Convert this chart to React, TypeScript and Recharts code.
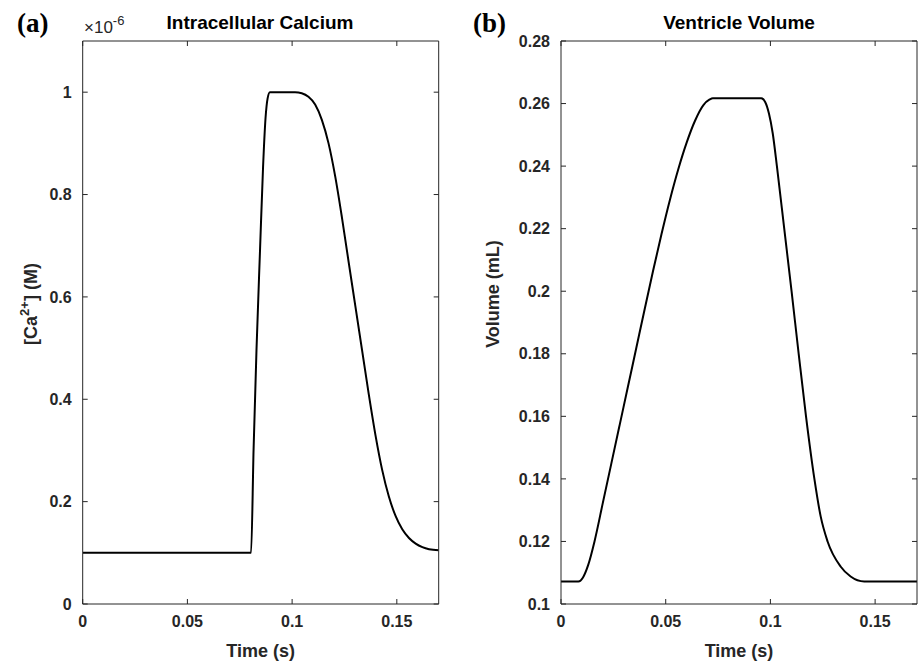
import React from 'react';
import { LineChart, Line, XAxis, YAxis } from 'recharts';

// ---- data ----
// Panel (a): intracellular calcium, values in units of 1e-6 M
const caTime = [
  0, 0.0804, 0.0816, 0.083, 0.0847, 0.0861, 0.0873, 0.0883, 0.0894, 0.1014,
  0.1046, 0.1078, 0.111, 0.1142, 0.1174, 0.1206, 0.1238, 0.127, 0.1302, 0.1334,
  0.1366, 0.1398, 0.143, 0.1462, 0.1494, 0.1526, 0.1558, 0.159, 0.1622, 0.1654, 0.17,
];
const caValue = [
  0.1, 0.1, 0.302, 0.498, 0.694, 0.851, 0.949, 0.988, 1.0, 1.0,
  0.998, 0.991, 0.976, 0.946, 0.9, 0.835, 0.755, 0.668, 0.582, 0.496,
  0.41, 0.33, 0.262, 0.21, 0.172, 0.146, 0.129, 0.118, 0.111, 0.107, 0.105,
];

// Panel (b): ventricle volume (mL)
const volTime = [
  0, 0.0083, 0.0105, 0.013, 0.016, 0.02, 0.024, 0.028, 0.032, 0.036,
  0.04, 0.044, 0.048, 0.052, 0.056, 0.06, 0.064, 0.068, 0.071, 0.0725,
  0.0956, 0.0975, 0.0993, 0.1011, 0.1031, 0.1066, 0.1101, 0.1135, 0.117, 0.121,
  0.124, 0.1273, 0.1335, 0.1383, 0.1448, 0.17,
];
const volValue = [
  0.1072, 0.1072, 0.1085, 0.1125, 0.12, 0.1324, 0.1448, 0.1572, 0.1696, 0.182,
  0.1944, 0.2066, 0.2183, 0.2292, 0.239, 0.2475, 0.2545, 0.2595, 0.2613, 0.2617,
  0.2617, 0.2605, 0.2568, 0.2505, 0.24, 0.22, 0.2, 0.18, 0.16, 0.14,
  0.128, 0.12, 0.112, 0.1088, 0.1072, 0.1072,
];

const timeTicks = [0, 0.05, 0.1, 0.15];
const timeDomain: [number, number] = [0, 0.17];
const caTicks = [0, 0.2, 0.4, 0.6, 0.8, 1];
const caDomain: [number, number] = [0, 1.1];
const volTicks = [0.1, 0.12, 0.14, 0.16, 0.18, 0.2, 0.22, 0.24, 0.26, 0.28];
const volDomain: [number, number] = [0.1, 0.28];

const caData = caTime.map((t, i) => ({ t, v: caValue[i] }));
const volData = volTime.map((t, i) => ({ t, v: volValue[i] }));

// ---- styles ----
const FONT = '"Liberation Sans", Arial, Helvetica, sans-serif';
const SERIF = '"Liberation Serif", "Times New Roman", serif';
const AX = '#262626';
const tickStyle = { fill: AX, fontSize: 16, fontWeight: 'bold' as const, fontFamily: FONT };
const blank = () => '';

type PanelProps = {
  data: { t: number; v: number }[];
  yDomain: [number, number];
  yTicks: number[];
  width: number;
  marginLeft: number;
  marginRight: number;
};

function Panel({ data, yDomain, yTicks, width, marginLeft, marginRight }: PanelProps) {
  return (
    <LineChart
      width={width}
      height={663}
      data={data}
      margin={{ top: 40, right: marginRight, bottom: 19, left: marginLeft }}
    >
      <XAxis
        xAxisId="b"
        dataKey="t"
        type="number"
        domain={timeDomain}
        allowDataOverflow
        ticks={timeTicks}
        interval={0}
        orientation="bottom"
        height={40}
        tickSize={-5}
        tickMargin={17}
        tick={tickStyle}
        tickFormatter={(v: number) => String(v)}
        axisLine={{ stroke: AX, strokeWidth: 1 }}
        tickLine={{ stroke: AX, strokeWidth: 1 }}
      />
      <XAxis
        xAxisId="t"
        dataKey="t"
        type="number"
        domain={timeDomain}
        allowDataOverflow
        ticks={timeTicks}
        interval={0}
        orientation="top"
        height={1}
        tickSize={-5}
        tick={tickStyle}
        tickFormatter={blank}
        axisLine={{ stroke: AX, strokeWidth: 1 }}
        tickLine={{ stroke: AX, strokeWidth: 1 }}
      />
      <YAxis
        yAxisId="l"
        type="number"
        domain={yDomain}
        allowDataOverflow
        ticks={yTicks}
        interval={0}
        orientation="left"
        width={60}
        tickSize={-5}
        tickMargin={16}
        tick={tickStyle}
        tickFormatter={(v: number) => String(v)}
        axisLine={{ stroke: AX, strokeWidth: 1 }}
        tickLine={{ stroke: AX, strokeWidth: 1 }}
      />
      <YAxis
        yAxisId="r"
        type="number"
        domain={yDomain}
        allowDataOverflow
        ticks={yTicks}
        interval={0}
        orientation="right"
        width={1}
        tickSize={-5}
        tick={tickStyle}
        tickFormatter={blank}
        axisLine={{ stroke: AX, strokeWidth: 1 }}
        tickLine={{ stroke: AX, strokeWidth: 1 }}
      />
      <Line
        xAxisId="b"
        yAxisId="l"
        dataKey="v"
        type="monotone"
        stroke="#000"
        strokeWidth={2}
        dot={false}
        activeDot={false}
        isAnimationActive={false}
      />
    </LineChart>
  );
}

export default function App() {
  return (
    <div style={{ position: 'absolute', left: 0, top: 0, width: 919, height: 663, background: '#fff' }}>
      <div style={{ position: 'absolute', left: 0, top: 0 }}>
        <Panel data={caData} yDomain={caDomain} yTicks={caTicks} width={460} marginLeft={22.7} marginRight={20.3} />
      </div>
      <div style={{ position: 'absolute', left: 460, top: 0 }}>
        <Panel data={volData} yDomain={volDomain} yTicks={volTicks} width={459} marginLeft={41} marginRight={1} />
      </div>
      <svg
        width={919}
        height={663}
        style={{ position: 'absolute', left: 0, top: 0, pointerEvents: 'none' }}
      >
        <text x={17} y={32} fontFamily={SERIF} fontWeight="bold" fontSize={27} fill="#000">(a)</text>
        <text x={473} y={32} fontFamily={SERIF} fontWeight="bold" fontSize={27} fill="#000">(b)</text>

        <text x={260} y={29} textAnchor="middle" fontFamily={FONT} fontWeight="bold" fontSize={19} fill="#000">
          Intracellular Calcium
        </text>
        <text x={739} y={29} textAnchor="middle" fontFamily={FONT} fontWeight="bold" fontSize={19} fill="#000">
          Ventricle Volume
        </text>

        <text x={84} y={33} fontFamily={FONT} fontSize={17} fill={AX}>
          ×10<tspan dy={-8} fontSize={13}>-6</tspan>
        </text>

        <text
          transform="translate(37,304) rotate(-90)"
          textAnchor="middle"
          fontFamily={FONT}
          fontWeight="bold"
          fontSize={18}
          fill={AX}
        >
          [Ca<tspan dy={-8} fontSize={13}>2+</tspan><tspan dy={8}>] (M)</tspan>
        </text>
        <text
          transform="translate(499,294) rotate(-90)"
          textAnchor="middle"
          fontFamily={FONT}
          fontWeight="bold"
          fontSize={18}
          fill={AX}
        >
          Volume (mL)
        </text>

        <text x={260.7} y={657} textAnchor="middle" fontFamily={FONT} fontWeight="bold" fontSize={18} fill={AX}>
          Time (s)
        </text>
        <text x={739} y={657} textAnchor="middle" fontFamily={FONT} fontWeight="bold" fontSize={18} fill={AX}>
          Time (s)
        </text>
      </svg>
    </div>
  );
}
